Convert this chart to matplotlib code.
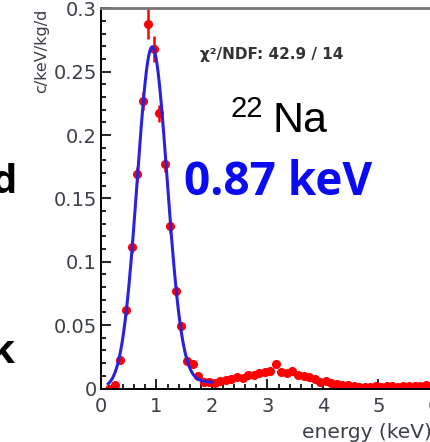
import math
import numpy as np
import matplotlib
matplotlib.use('Agg')
import matplotlib.pyplot as plt
from matplotlib.ticker import MultipleLocator

# measured spectrum (bin centres in keV, rate in c/keV/kg/d)
energy = [0.15, 0.25, 0.35, 0.45, 0.55, 0.65, 0.75, 0.85, 0.95, 1.05,
          1.15, 1.25, 1.35, 1.45, 1.55, 1.65, 1.75, 1.85, 1.95, 2.05,
          2.15, 2.25, 2.35, 2.45, 2.55, 2.65, 2.75, 2.85, 2.95, 3.05,
          3.15, 3.25, 3.35, 3.45, 3.55, 3.65, 3.75, 3.85, 3.95, 4.05,
          4.15, 4.25, 4.35, 4.45, 4.55, 4.65, 4.75, 4.85, 4.95, 5.05,
          5.15, 5.25, 5.35, 5.45, 5.55, 5.65, 5.75, 5.85, 5.95, 6.05]
rate = [0.0, 0.003, 0.0227, 0.062, 0.112, 0.169, 0.227, 0.288, 0.268, 0.217,
        0.177, 0.128, 0.077, 0.049, 0.0216, 0.0195, 0.0095, 0.005, 0.005, 0.004,
        0.006, 0.0065, 0.0078, 0.009, 0.008, 0.011, 0.011, 0.012, 0.013, 0.014,
        0.0195, 0.013, 0.012, 0.0135, 0.011, 0.010, 0.009, 0.0075, 0.005, 0.006,
        0.004, 0.0035, 0.003, 0.0025, 0.002, 0.001, 0.0012, 0.0015, 0.002, 0.0015,
        0.002, 0.0018, 0.0015, 0.002, 0.0018, 0.002, 0.0022, 0.0025, 0.002, 0.002]
rate_err = [0.001, 0.002, 0.003, 0.004, 0.005, 0.006, 0.007, 0.012, 0.0105, 0.007,
            0.0065, 0.005, 0.004, 0.003, 0.002, 0.002, 0.002, 0.001, 0.001, 0.001,
            0.001, 0.001, 0.001, 0.001, 0.001, 0.001, 0.001, 0.001, 0.001, 0.001,
            0.002, 0.001, 0.001, 0.001, 0.001, 0.001, 0.001, 0.001, 0.001, 0.001,
            0.001, 0.001, 0.001, 0.001, 0.001, 0.001, 0.001, 0.001, 0.001, 0.001,
            0.001, 0.001, 0.001, 0.001, 0.001, 0.001, 0.001, 0.001, 0.001, 0.001]
bin_half = 0.05

# fitted gaussian + step background
fit_amp = 0.267
fit_mean = 0.92
fit_sigma = 0.27
fit_step = 0.005
fit_range = (0.13, 2.0)

W, H = 431, 442
fig = plt.figure(figsize=(W / 100, H / 100), dpi=100)


def fx(px):
    return px / W


def fy(py):
    return 1 - py / H


kev_px = 55.5
x_max = 6.5
y_bottom, y_top = 388.5, 8.3
ax = fig.add_axes([fx(101), fy(y_bottom), kev_px * x_max / W, (y_bottom - y_top) / H])

ax.errorbar(energy, rate, yerr=rate_err, xerr=bin_half, fmt='o', color='#ff0000',
            ms=5.5, elinewidth=1.8, capsize=0, zorder=2)

xf = np.linspace(*fit_range, 300)
step = np.array([0.5 * (1 + math.erf((v - fit_mean) / (math.sqrt(2) * fit_sigma))) for v in xf])
yf = fit_amp * np.exp(-0.5 * ((xf - fit_mean) / fit_sigma) ** 2) + fit_step * step
ax.plot(xf, yf, color='#2a22dd', lw=2.2, zorder=3)

ax.set_xlim(0, x_max)
ax.set_ylim(0, 0.3)
ax.xaxis.set_major_locator(MultipleLocator(1))
ax.xaxis.set_minor_locator(MultipleLocator(0.2))
ax.yaxis.set_major_locator(MultipleLocator(0.05))
ax.yaxis.set_minor_locator(MultipleLocator(0.01))
ax.set_yticks([0, 0.05, 0.1, 0.15, 0.2, 0.25, 0.3])
ax.set_yticklabels(['0', '0.05', '0.1', '0.15', '0.2', '0.25', '0.3'])

label_color = '#3a3f48'
ax.tick_params(which='both', direction='in', top=False, right=False, colors='black',
               labelcolor=label_color, width=1.2)
ax.tick_params(which='major', length=7, labelsize=14)
ax.tick_params(which='minor', length=3.5)
ax.tick_params(axis='x', which='major', pad=6)
ax.tick_params(axis='y', which='major', pad=3)

for side in ('left', 'bottom'):
    ax.spines[side].set_linewidth(1.4)
ax.spines['top'].set_color('#777777')
ax.spines['top'].set_linewidth(2)
ax.spines['right'].set_visible(False)

fig.text(fx(42), fy(9), 'c/keV/kg/d', rotation=90, ha='center', va='top',
         fontsize=11.5, color=label_color)
fig.text(fx(302), fy(438), 'energy (keV)', ha='left', va='baseline',
         fontsize=14.5, color=label_color)

fig.text(fx(272), fy(55), 'χ²/NDF: 42.9 / 14', ha='center', va='center',
         fontsize=11, fontweight='bold', color='#333333')
fig.text(fx(231), fy(117), '22', ha='left', va='baseline', fontsize=21,
         family='Liberation Sans', color='black')
fig.text(fx(273), fy(132), 'Na', ha='left', va='baseline', fontsize=31,
         family='Liberation Sans', color='black')
fig.text(fx(184), fy(195), '0.87 keV', ha='left', va='baseline', fontsize=33,
         family='Open Sans', fontweight='bold', color='#0a0af5')

# slide text cut off at the left edge
fig.text(fx(17), fy(193), 'd', ha='right', va='baseline', fontsize=29,
         family='Open Sans', fontweight='bold', color='black')
fig.text(fx(15), fy(363), 'k', ha='right', va='baseline', fontsize=29,
         family='Open Sans', fontweight='bold', color='black')

fig.savefig('out.png', dpi=100)
